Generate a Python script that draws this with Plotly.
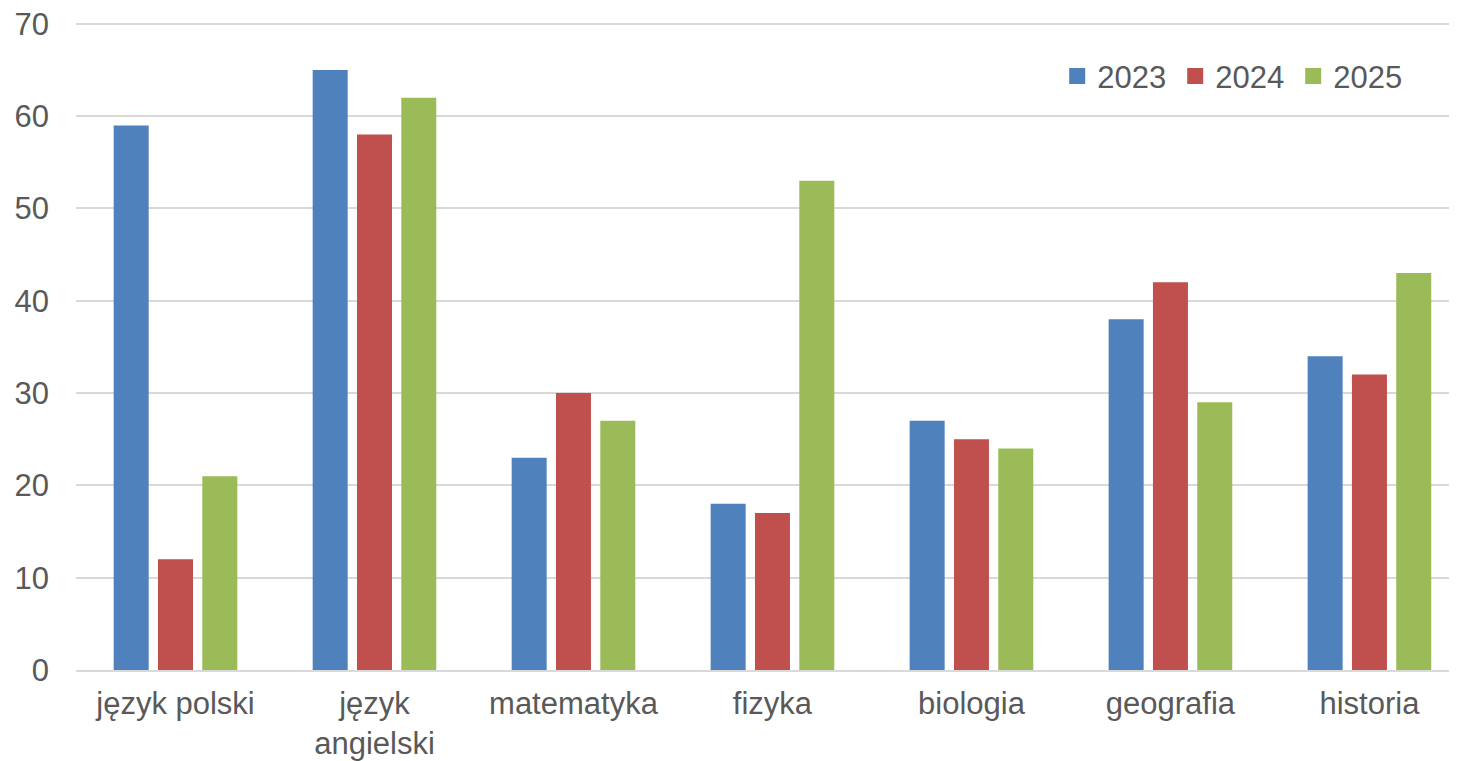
import plotly.graph_objects as go

categories = ["język polski", "język<br>angielski", "matematyka", "fizyka", "biologia", "geografia", "historia"]
series_names = ["2023", "2024", "2025"]
values_2023 = [59, 65, 23, 18, 27, 38, 34]
values_2024 = [12, 58, 30, 17, 25, 42, 32]
values_2025 = [21, 62, 27, 53, 24, 29, 43]
y_ticks = [0, 10, 20, 30, 40, 50, 60, 70]
colors = ["#4F81BD", "#C0504D", "#9BBB59"]

fig = go.Figure()
for name, vals, col in zip(series_names, [values_2023, values_2024, values_2025], colors):
    fig.add_trace(go.Bar(name=name, x=categories, y=vals, marker=dict(color=col, line=dict(width=0)),
                         showlegend=False, legendgroup=name))
# legend entries with larger square swatches
for name, col in zip(series_names, colors):
    fig.add_trace(go.Scatter(name=name, x=[None], y=[None], mode="markers",
                             marker=dict(symbol="square", size=17, color=col),
                             legendgroup=name, showlegend=True))

font_family = "Liberation Sans, Arial, sans-serif"
fig.update_layout(
    width=1449, height=753,
    margin=dict(l=68, r=0, t=14, b=91),
    paper_bgcolor="white", plot_bgcolor="white",
    barmode="group", bargap=0.332, bargroupgap=0.21,
    font=dict(family=font_family, size=31, color="#595959"),
    legend=dict(orientation="h", x=0.7105, xanchor="left", y=0.916, yanchor="middle",
                font=dict(size=31, color="#595959"), itemwidth=30, traceorder="normal",
                entrywidth=73, entrywidthmode="pixels",
                bgcolor="rgba(0,0,0,0)", tracegroupgap=0),
    showlegend=True,
)
fig.update_yaxes(range=[0, 70.2], tickvals=y_ticks, showgrid=True,
                 gridcolor="#D9D9D9", gridwidth=1.5,
                 zeroline=False, showline=False, ticks="", ticklabelstandoff=26,
                 ticklabeloverflow="allow",
                 tickfont=dict(size=31, color="#595959"), automargin=False)
fig.update_xaxes(range=[-0.5, 6.44], showline=True, linecolor="#D9D9D9", linewidth=1.5, ticks="",
                 ticklabelstandoff=5, ticklabeloverflow="allow",
                 tickfont=dict(size=31, color="#595959"), automargin=False)

fig.write_html("out.html")
